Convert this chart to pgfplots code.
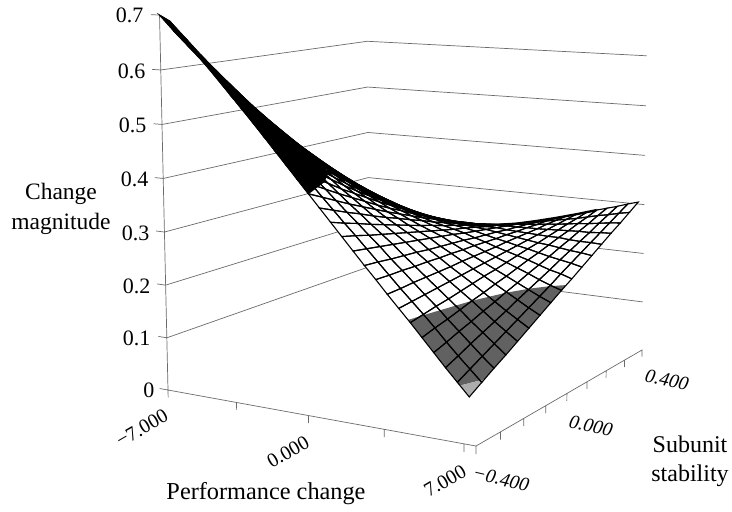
\documentclass[border=0pt]{standalone}
\usepackage{fontspec}
\setmainfont{Liberation Serif}
\usepackage{pgfplots}
\usepackage{pgfplotstable}
\pgfplotsset{compat=1.18}
\pgfkeys{/pgf/declare function={
  ww(\u,\v,\z)=1-0.10024*\u+0.18916*\v-0.0419*\z;
  sx(\x,\y,\z)=(168+260.29*(0.07*\x+0.49)+270.8*(1.25*\y+0.5)-18.8*\z)/ww(0.07*\x+0.49,1.25*\y+0.5,\z);
  sy(\x,\y,\z)=-(390+11.29*(0.07*\x+0.49)-20.17*(1.25*\y+0.5)-536.3*\z)/ww(0.07*\x+0.49,1.25*\y+0.5,\z);
}}
\pgfplotstableread[row sep=\\]{
z\\
0.700\\0.665\\0.632\\0.599\\0.567\\0.537\\0.507\\0.478\\0.451\\0.424\\0.398\\0.374\\0.350\\0.328\\0.306\\0.286\\0.266\\
0.690\\0.656\\0.622\\0.590\\0.559\\0.528\\0.499\\0.471\\0.443\\0.417\\0.391\\0.367\\0.343\\0.321\\0.299\\0.279\\0.259\\
0.668\\0.635\\0.603\\0.572\\0.542\\0.512\\0.484\\0.457\\0.430\\0.405\\0.380\\0.356\\0.334\\0.312\\0.291\\0.271\\0.252\\
0.646\\0.614\\0.583\\0.554\\0.524\\0.496\\0.469\\0.443\\0.417\\0.393\\0.369\\0.346\\0.324\\0.304\\0.283\\0.264\\0.246\\
0.624\\0.594\\0.564\\0.535\\0.507\\0.480\\0.454\\0.429\\0.405\\0.381\\0.358\\0.336\\0.315\\0.295\\0.276\\0.258\\0.240\\
0.603\\0.574\\0.546\\0.518\\0.491\\0.465\\0.440\\0.416\\0.393\\0.370\\0.348\\0.327\\0.307\\0.288\\0.270\\0.252\\0.235\\
0.581\\0.553\\0.526\\0.500\\0.474\\0.450\\0.426\\0.403\\0.381\\0.359\\0.338\\0.318\\0.299\\0.281\\0.263\\0.246\\0.230\\
0.559\\0.533\\0.507\\0.482\\0.458\\0.434\\0.411\\0.389\\0.368\\0.348\\0.328\\0.309\\0.291\\0.274\\0.257\\0.241\\0.226\\
0.537\\0.512\\0.488\\0.464\\0.441\\0.419\\0.397\\0.377\\0.357\\0.338\\0.319\\0.301\\0.284\\0.268\\0.252\\0.237\\0.223\\
0.515\\0.491\\0.469\\0.447\\0.425\\0.404\\0.384\\0.365\\0.346\\0.328\\0.311\\0.294\\0.278\\0.263\\0.248\\0.234\\0.221\\
0.492\\0.470\\0.449\\0.429\\0.409\\0.390\\0.371\\0.353\\0.336\\0.319\\0.303\\0.288\\0.273\\0.259\\0.245\\0.232\\0.220\\
0.469\\0.449\\0.430\\0.412\\0.394\\0.376\\0.359\\0.343\\0.327\\0.312\\0.297\\0.283\\0.269\\0.256\\0.243\\0.232\\0.220\\
0.446\\0.428\\0.411\\0.395\\0.378\\0.363\\0.348\\0.333\\0.319\\0.305\\0.291\\0.278\\0.266\\0.254\\0.243\\0.232\\0.221\\
0.423\\0.408\\0.393\\0.378\\0.364\\0.350\\0.336\\0.323\\0.311\\0.298\\0.286\\0.275\\0.264\\0.253\\0.243\\0.233\\0.223\\
0.400\\0.387\\0.374\\0.361\\0.349\\0.337\\0.325\\0.314\\0.303\\0.292\\0.282\\0.272\\0.262\\0.253\\0.243\\0.235\\0.226\\
0.377\\0.366\\0.355\\0.345\\0.334\\0.324\\0.315\\0.305\\0.296\\0.286\\0.277\\0.269\\0.260\\0.252\\0.244\\0.236\\0.229\\
0.354\\0.345\\0.337\\0.328\\0.320\\0.312\\0.304\\0.296\\0.289\\0.281\\0.274\\0.267\\0.259\\0.253\\0.246\\0.239\\0.233\\
0.331\\0.325\\0.318\\0.312\\0.306\\0.300\\0.294\\0.288\\0.282\\0.276\\0.271\\0.265\\0.259\\0.254\\0.249\\0.243\\0.238\\
0.308\\0.304\\0.300\\0.296\\0.292\\0.288\\0.284\\0.280\\0.276\\0.271\\0.267\\0.263\\0.259\\0.255\\0.251\\0.247\\0.243\\
0.285\\0.283\\0.280\\0.278\\0.276\\0.273\\0.271\\0.269\\0.267\\0.264\\0.262\\0.260\\0.257\\0.255\\0.253\\0.250\\0.248\\
0.263\\0.262\\0.262\\0.261\\0.261\\0.260\\0.260\\0.259\\0.259\\0.258\\0.257\\0.257\\0.256\\0.256\\0.255\\0.255\\0.254\\
0.240\\0.241\\0.243\\0.244\\0.245\\0.246\\0.248\\0.249\\0.250\\0.251\\0.253\\0.254\\0.255\\0.256\\0.258\\0.259\\0.260\\
0.218\\0.221\\0.224\\0.227\\0.230\\0.233\\0.236\\0.239\\0.242\\0.245\\0.248\\0.251\\0.254\\0.257\\0.260\\0.263\\0.266\\
0.196\\0.201\\0.206\\0.210\\0.215\\0.220\\0.225\\0.229\\0.234\\0.239\\0.244\\0.248\\0.253\\0.258\\0.263\\0.267\\0.272\\
0.173\\0.180\\0.186\\0.193\\0.200\\0.206\\0.213\\0.219\\0.226\\0.233\\0.239\\0.246\\0.253\\0.259\\0.266\\0.272\\0.279\\
0.150\\0.158\\0.167\\0.175\\0.184\\0.192\\0.201\\0.209\\0.218\\0.226\\0.234\\0.243\\0.251\\0.260\\0.268\\0.277\\0.285\\
0.127\\0.137\\0.148\\0.158\\0.168\\0.178\\0.189\\0.199\\0.209\\0.219\\0.230\\0.240\\0.250\\0.260\\0.271\\0.281\\0.291\\
0.105\\0.117\\0.129\\0.141\\0.153\\0.165\\0.177\\0.189\\0.201\\0.214\\0.226\\0.238\\0.250\\0.262\\0.274\\0.286\\0.298\\
0.083\\0.097\\0.111\\0.124\\0.138\\0.152\\0.166\\0.180\\0.194\\0.207\\0.221\\0.235\\0.249\\0.263\\0.276\\0.290\\0.304\\
}\surfdata
\definecolor{axgray}{gray}{0.42}
\pgfkeys{
  /pgfplots/table/scr/.style={/pgfplots/table/x expr={sx(\thisrow{x},\thisrow{y},\thisrow{z})},/pgfplots/table/y expr={sy(\thisrow{x},\thisrow{y},\thisrow{z})},/pgfplots/table/z expr=0},
  /pgfplots/table/scrs/.style={
    /pgfplots/table/x index=0,/pgfplots/table/y index=0,/pgfplots/table/z index=0,
    /pgfplots/table/x expr={sx(-7+0.5*floor((\coordindex+0.5)/17),-0.4+0.05*(\coordindex-17*floor((\coordindex+0.5)/17)),\thisrow{z})},
    /pgfplots/table/y expr={sy(-7+0.5*floor((\coordindex+0.5)/17),-0.4+0.05*(\coordindex-17*floor((\coordindex+0.5)/17)),\thisrow{z})},
    /pgfplots/table/z expr=0},
}
\begin{document}
\begin{tikzpicture}
\begin{axis}[
  view={0}{90}, hide axis, scale only axis, width=732pt, height=511pt,
  xmin=0, xmax=732, ymin=-511, ymax=0, zmin=-1, zmax=1,
  clip=false, point meta min=0, point meta max=1,
]
% frame that fixes the picture's size
\addplot3[draw=none, fill=white] coordinates {(0,0,0) (732,0,0) (732,-511,0) (0,-511,0)};
% back walls
\pgfplotsinvokeforeach{0.1,0.2,0.3,0.4,0.5,0.6}{
  \addplot3[axgray, line width=0.7pt, no marks] table[scr, row sep=\\] {x y z\\ -7 -0.4 #1\\ -7 0.4 #1\\ 7.286 0.4 #1\\};
}
% vertical axis with its ticks
\addplot3[axgray, line width=0.7pt, no marks] table[scr, row sep=\\] {x y z\\
 -7.43 -0.4 0\\ -7 -0.4 0\\ -7 -0.4 0.1\\ -7.43 -0.4 0.1\\ -7 -0.4 0.1\\ -7 -0.4 0.2\\ -7.43 -0.4 0.2\\ -7 -0.4 0.2\\
 -7 -0.4 0.3\\ -7.43 -0.4 0.3\\ -7 -0.4 0.3\\ -7 -0.4 0.4\\ -7.43 -0.4 0.4\\ -7 -0.4 0.4\\ -7 -0.4 0.5\\ -7.43 -0.4 0.5\\ -7 -0.4 0.5\\
 -7 -0.4 0.6\\ -7.43 -0.4 0.6\\ -7 -0.4 0.6\\ -7 -0.4 0.7\\ -7.43 -0.4 0.7\\};
% performance change axis
\addplot3[axgray, line width=0.7pt, no marks] table[scr, row sep=\\] {x y z\\
 -7 -0.4 -0.014\\ -7 -0.4 0\\ -3.554 -0.4 0\\ -3.554 -0.4 -0.014\\ -3.554 -0.4 0\\ -0.109 -0.4 0\\ -0.109 -0.4 -0.014\\ -0.109 -0.4 0\\
 3.337 -0.4 0\\ 3.337 -0.4 -0.014\\ 3.337 -0.4 0\\ 6.783 -0.4 0\\ 6.783 -0.4 -0.014\\ 6.783 -0.4 0\\ 7.286 -0.4 0\\ 7.286 -0.4 -0.014\\ 7.286 -0.4 0\\};
% subunit stability axis
\addplot3[axgray, line width=0.7pt, no marks] table[scr, row sep=\\] {x y z\\
 7.286 -0.4 0\\ 7.286 -0.3 0\\ 7.286 -0.3 -0.014\\ 7.286 -0.3 0\\ 7.286 -0.2 0\\ 7.286 -0.2 -0.014\\ 7.286 -0.2 0\\ 7.286 -0.1 0\\ 7.286 -0.1 -0.014\\ 7.286 -0.1 0\\
 7.286 0 0\\ 7.286 0 -0.014\\ 7.286 0 0\\ 7.286 0.1 0\\ 7.286 0.1 -0.014\\ 7.286 0.1 0\\ 7.286 0.2 0\\ 7.286 0.2 -0.014\\ 7.286 0.2 0\\ 7.286 0.3 0\\ 7.286 0.3 -0.014\\ 7.286 0.3 0\\ 7.286 0.4 0\\ 7.286 0.4 -0.014\\};
% white body of the surface
\addplot3[surf, shader=flat, colormap={wh}{color(0)=(white) color(1)=(white)}, point meta=0, mesh/cols=17, mesh/rows=29] table[scrs] {\surfdata};
% band above 0.4
\addplot3[fill=black, draw=black, line width=0.8pt, no marks] table[scr, row sep=\\] {x y z\\
 -7 -0.4 0.7\\ -6.5 -0.4 0.69\\ -6 -0.4 0.668\\ -5 -0.4 0.624\\ -4 -0.4 0.581\\ -3 -0.4 0.537\\ -2 -0.4 0.492\\ -1 -0.4 0.446\\ 0 -0.4 0.4\\ -1 -0.265 0.4\\ -2 -0.175 0.4\\ -3 -0.105 0.4\\ -4 -0.045 0.4\\ -5 0.01 0.4\\ -6 0.06 0.4\\ -7 0.1 0.4\\
 -7 0.05 0.424\\ -7 0 0.451\\ -7 -0.05 0.478\\ -7 -0.1 0.507\\ -7 -0.15 0.537\\ -7 -0.2 0.567\\ -7 -0.25 0.599\\ -7 -0.3 0.632\\ -7 -0.35 0.665\\ -7 -0.4 0.7\\};
% band from 0.1 to 0.2
\addplot3[fill=black!62, draw=none, no marks] table[scr, row sep=\\] {x y z\\
 4.4 -0.4 0.2\\ 4.5 -0.358 0.2\\ 5 -0.2 0.2\\ 5.5 -0.105 0.2\\ 6 -0.045 0.2\\ 6.5 -0.005 0.2\\ 7 0.0225 0.2\\ 7 -0.34 0.1\\ 6.8 -0.37 0.1\\ 6.61 -0.4 0.1\\ 6 -0.4 0.127\\ 5.5 -0.4 0.15\\};
% band under 0.1
\addplot3[fill=black!32, draw=none, no marks] table[scr, row sep=\\] {x y z\\
 6.61 -0.4 0.1\\ 7 -0.4 0.083\\ 7 -0.34 0.1\\ 6.8 -0.37 0.1\\};
% the mesh
\addplot3[mesh, line width=1.1pt, colormap={bk}{color(0)=(black) color(1)=(black)}, point meta=0, mesh/cols=17, mesh/rows=29] table[scrs] {\surfdata};
% the crest, where the far rows of the mesh close up
\addplot3[black, line width=2.3pt, no marks] table[scr, row sep=\\] {x y z\\
 -5 0.4 0.240\\ -4 0.4 0.230\\ -3 0.4 0.223\\ -2 0.4 0.220\\ -1 0.4 0.221\\ 0 0.4 0.226\\ 1 0.4 0.233\\ 2 0.4 0.243\\ 3 0.4 0.254\\ 4 0.4 0.266\\ 5 0.4 0.279\\};
% tick labels and titles
\node[anchor=east, font=\fontsize{22}{24}\selectfont] at (axis cs:147,-15,0) {0.7};
\node[anchor=east, font=\fontsize{22}{24}\selectfont] at (axis cs:149,-71,0) {0.6};
\node[anchor=east, font=\fontsize{22}{24}\selectfont] at (axis cs:150,-125,0) {0.5};
\node[anchor=east, font=\fontsize{22}{24}\selectfont] at (axis cs:152,-179,0) {0.4};
\node[anchor=east, font=\fontsize{22}{24}\selectfont] at (axis cs:153,-233,0) {0.3};
\node[anchor=east, font=\fontsize{22}{24}\selectfont] at (axis cs:154,-286,0) {0.2};
\node[anchor=east, font=\fontsize{22}{24}\selectfont] at (axis cs:154,-338,0) {0.1};
\node[anchor=east, font=\fontsize{22}{24}\selectfont] at (axis cs:158,-390,0) {0};
\node[rotate=30, font=\fontsize{20}{22}\selectfont] at (axis cs:142,-428,0) {−7.000};
\node[rotate=30, font=\fontsize{20}{22}\selectfont] at (axis cs:288,-452,0) {0.000};
\node[rotate=30, font=\fontsize{20}{22}\selectfont] at (axis cs:445,-481,0) {7.000};
\node[rotate=-13, font=\fontsize{19.5}{22}\selectfont\itshape] at (axis cs:501,-479,0) {−0.400};
\node[rotate=-13, font=\fontsize{19.5}{22}\selectfont\itshape] at (axis cs:591,-426,0) {0.000};
\node[rotate=-13, font=\fontsize{19.5}{22}\selectfont\itshape] at (axis cs:667,-380,0) {0.400};
\node[align=center, font=\fontsize{23.5}{30}\selectfont] at (axis cs:61,-209,0) {Change\\magnitude};
\node[font=\fontsize{24.3}{29}\selectfont] at (axis cs:266,-494,0) {Performance change};
\node[align=center, font=\fontsize{24}{29}\selectfont] at (axis cs:690,-461,0) {Subunit\\stability};
\end{axis}
\end{tikzpicture}
\end{document}
